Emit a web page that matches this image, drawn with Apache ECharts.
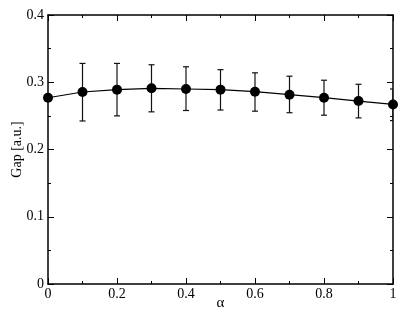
<!DOCTYPE html>
<html>
<head>
<meta charset="utf-8">
<script src="https://cdn.jsdelivr.net/npm/echarts@6/dist/echarts.min.js"></script>
<style>
  html, body { margin: 0; padding: 0; background: #fff; }
  #chart { width: 409px; height: 316px; }
</style>
</head>
<body>
<div id="chart"></div>
<script>
// alpha values and gap with error bar ends
const alphas = [0, 0.1, 0.2, 0.3, 0.4, 0.5, 0.6, 0.7, 0.8, 0.9, 1.0];
const gap = [0.277, 0.2855, 0.289, 0.291, 0.290, 0.289, 0.286, 0.2815, 0.277, 0.272, 0.267];
const errHigh = [0.277, 0.328, 0.328, 0.326, 0.323, 0.3187, 0.314, 0.309, 0.303, 0.297, 0.290];
const errLow = [0.277, 0.2424, 0.250, 0.256, 0.258, 0.2587, 0.257, 0.2547, 0.251, 0.247, 0.243];

const serif = "'Liberation Serif', 'Times New Roman', serif";
const axisColor = '#000';

const chart = echarts.init(document.getElementById('chart'), null, { renderer: 'canvas' });

const baseAxis = {
    axisLine: { show: true, onZero: false, lineStyle: { color: axisColor, width: 1.5 } },
    axisTick: { show: true, inside: true, length: 6, lineStyle: { color: axisColor, width: 1 } },
    minorTick: { show: true, splitNumber: 2, length: 3, lineStyle: { color: axisColor, width: 1 } },
    splitLine: { show: false },
    axisLabel: { color: '#000', fontFamily: serif, fontSize: 14 }
};

const option = {
    animation: false,
    grid: { left: 48, right: 16, top: 15, bottom: 32, outerBoundsMode: 'none', containLabel: false },
    xAxis: [
        Object.assign({}, baseAxis, {
            type: 'value', min: 0, max: 1, interval: 0.2, position: 'bottom',
            name: 'α', nameLocation: 'middle', nameGap: 12, nameMoveOverlap: false,
            nameTextStyle: { fontFamily: serif, fontSize: 15, color: '#000' },
            axisLabel: Object.assign({}, baseAxis.axisLabel, { margin: 3,
                formatter: v => (v === 0 || v === 1) ? String(v) : v.toFixed(1) })
        }),
        Object.assign({}, baseAxis, {
            type: 'value', min: 0, max: 1, interval: 0.2, position: 'top',
            axisLabel: { show: false }
        })
    ],
    yAxis: [
        Object.assign({}, baseAxis, {
            type: 'value', min: 0, max: 0.4, interval: 0.1, position: 'left',
            name: 'Gap [a.u.]', nameLocation: 'middle', nameGap: 24, nameMoveOverlap: false,
            nameTextStyle: { fontFamily: serif, fontSize: 14, color: '#000' },
            axisLabel: Object.assign({}, baseAxis.axisLabel, { margin: 4,
                formatter: v => v === 0 ? '0' : v.toFixed(1) })
        }),
        Object.assign({}, baseAxis, {
            type: 'value', min: 0, max: 0.4, interval: 0.1, position: 'right',
            axisLabel: { show: false }
        })
    ],
    series: [
        {
            type: 'custom',
            xAxisIndex: 0, yAxisIndex: 0,
            clip: true,
            data: alphas.map((a, i) => [a, errLow[i], errHigh[i]]),
            renderItem: function (params, api) {
                const lo = api.coord([api.value(0), api.value(1)]);
                const hi = api.coord([api.value(0), api.value(2)]);
                const w = 3;
                const style = { stroke: '#111', lineWidth: 1.2 };
                return {
                    type: 'group',
                    children: [
                        { type: 'line', shape: { x1: hi[0], y1: hi[1], x2: lo[0], y2: lo[1] }, style },
                        { type: 'line', shape: { x1: hi[0] - w, y1: hi[1], x2: hi[0] + w, y2: hi[1] }, style },
                        { type: 'line', shape: { x1: lo[0] - w, y1: lo[1], x2: lo[0] + w, y2: lo[1] }, style }
                    ]
                };
            },
            z: 2
        },
        {
            type: 'line',
            xAxisIndex: 0, yAxisIndex: 0,
            data: alphas.map((a, i) => [a, gap[i]]),
            symbol: 'circle',
            symbolSize: 10,
            clip: false,
            lineStyle: { color: '#000', width: 1.2 },
            itemStyle: { color: '#000' },
            z: 3
        }
    ]
};

chart.setOption(option);
</script>
</body>
</html>
